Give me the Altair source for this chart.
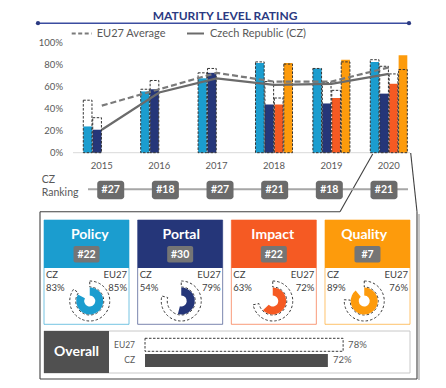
import altair as alt
import pandas as pd
import math

FONT = "Lato"

# ---------------- data ----------------
years = ["2015", "2016", "2017", "2018", "2019", "2020"]
cats = ["Policy", "Portal", "Impact", "Quality"]
cat_colors = ["#1b9dcf", "#253679", "#f55a23", "#fd9b0c"]

cz_policy = [24, 56, 68, 82, 77, 83]
cz_portal = [21, 58, 73, 44, 45, 54]
cz_impact = [None, None, None, 44, 50, 63]
cz_quality = [None, None, None, 82, 85, 89]

eu_policy = [48, 58, 73, 83, 77, 85]
eu_portal = [32, 66, 77, 65, 64, 79]
eu_impact = [None, None, None, 50, 57, 72]
eu_quality = [None, None, None, 81, 83, 76]

eu_avg = [43, 58, 73, 65, 65, 78]
cz_avg = [21, 55, 68, 62, 63, 72]

cz_rank = [27, 18, 27, 21, 18, 21]

y_ticks = [0, 20, 40, 60, 80, 100]
y_tick_labels = ["0%", "20%", "40%", "60%", "80%", "100%"]

panel_rank = [22, 30, 22, 7]
panel_cz = [83, 54, 63, 89]
panel_eu = [85, 79, 72, 76]

overall_labels = ["EU27", "CZ"]
overall_values = [78, 72]

title = "MATURITY LEVEL RATING"
legend_eu = "EU27 Average"
legend_cz = "Czech Republic (CZ)"

# ---------------- tables ----------------
rows = []
for series, vals_cz, vals_eu in zip(cats, [cz_policy, cz_portal, cz_impact, cz_quality],
                                    [eu_policy, eu_portal, eu_impact, eu_quality]):
    for yr, c, e in zip(years, vals_cz, vals_eu):
        if c is not None:
            rows.append({"year": yr, "cat": series, "cz": c, "eu": e})
bars_df = pd.DataFrame(rows)

lines_df = pd.DataFrame({"year": years, "eu": eu_avg, "cz": cz_avg})
rank_df = pd.DataFrame({"year": years, "label": ["#%d" % r for r in cz_rank]})
ticks_df = pd.DataFrame({"v": y_ticks, "label": y_tick_labels})
panel_df = pd.DataFrame({
    "cat": cats, "rank": ["#%d" % r for r in panel_rank],
    "cz": panel_cz, "eu": panel_eu,
    "czl": ["%d%%" % v for v in panel_cz], "eul": ["%d%%" % v for v in panel_eu],
    "zero": [0, 0, 0, 0],
    "czt": ["CZ"] * 4, "eut": ["EU27"] * 4,
})
overall_df = pd.DataFrame({"who": overall_labels, "v": overall_values,
                           "vl": ["%d%%" % v for v in overall_values]})
ONE = pd.DataFrame({"a": [0]})

# ---------------- scales ----------------
year_scale = alt.Scale(domain=years, range=[65.1, 409.5], paddingInner=0.355, paddingOuter=0.1775)
yscale = alt.Scale(domain=[0, 100], range=[144.7, 35.3])
off_scale = alt.Scale(domain=cats, paddingInner=0.08)
color_scale = alt.Scale(domain=cats, range=cat_colors)
rank_scale = alt.Scale(domain=years, range=[75.4, 403.3], paddingInner=0.506, paddingOuter=0.253)
panel_scale = alt.Scale(domain=cats, range=[36, 402], paddingInner=0.0925, paddingOuter=0)
panel_left = alt.Scale(type="point", domain=cats, range=[36, 317], padding=0)
panel_right = alt.Scale(type="point", domain=cats, range=[121, 402], padding=0)
badge_scale = alt.Scale(domain=cats, range=[31.7, 406.3], paddingInner=0.7224, paddingOuter=0.3612)
theta_scale = alt.Scale(domain=[0, 100], range=[0, 2 * math.pi])
ov_x = alt.Scale(domain=[0, 100], range=[137, 391])
ov_y = alt.Scale(domain=overall_labels, range=[330.3, 358.9], paddingInner=0.167, paddingOuter=0)


def txt(text, x, y, size=10, color="#595959", align="left", weight="normal"):
    return alt.Chart(pd.DataFrame({"t": [text]})).mark_text(
        align=align, baseline="middle", fontSize=size, color=color,
        fontWeight=weight, font=FONT
    ).encode(text="t:N", x=alt.value(x), y=alt.value(y))


def rule(x1, y1, x2, y2, color, width=1.0, dash=None, opacity=1.0):
    kw = dict(color=color, strokeWidth=width, opacity=opacity)
    if dash:
        kw["strokeDash"] = dash
    return alt.Chart(ONE).mark_rule(**kw).encode(
        x=alt.value(x1), y=alt.value(y1), x2=alt.value(x2), y2=alt.value(y2))


def rect(x1, y1, x2, y2, **kw):
    return alt.Chart(ONE).mark_rect(**kw).encode(
        x=alt.value(x1), y=alt.value(y1), x2=alt.value(x2), y2=alt.value(y2))


layers = []

# title + underline
layers.append(txt(title, 217, 7.5, size=12, color="#2b3a82", align="center", weight="bold"))
layers.append(rule(30, 15.2, 401, 15.2, "#3b4da0", 1.5))
layers.append(alt.Chart(pd.DataFrame({"p": [0, 1]})).mark_point(
    filled=True, size=18, color="#2b3a82", opacity=1).encode(
    x=alt.X("p:Q", scale=alt.Scale(domain=[0, 1], range=[30, 401]), axis=None),
    y=alt.value(15.2)))

# legend
layers.append(rule(63.7, 25.5, 83.7, 25.5, "#7a7a7a", 2, dash=[4, 2.5]))
layers.append(txt(legend_eu, 88.7, 25.5, size=11, color="#595959"))
layers.append(rule(179, 25.5, 196, 25.5, "#6b6b6b", 2))
layers.append(txt(legend_cz, 202, 25.5, size=11, color="#595959"))

# y tick labels
layers.append(alt.Chart(ticks_df).mark_text(align="right", baseline="middle", fontSize=9.5,
                                            color="#595959", font=FONT).encode(
    y=alt.Y("v:Q", scale=yscale, axis=None), x=alt.value(55), text="label:N"))

# baseline
layers.append(rule(65, 144.7, 402, 144.7, "#d9d9d9", 1))

# callout box shadow and outline
layers.append(rule(34, 373, 411, 373, "#b0b0b0", 2, opacity=0.7))
layers.append(rule(411, 206, 411, 373, "#b0b0b0", 2, opacity=0.7))
box_col = "#404040"
layers.append(rule(364.7, 146, 332, 203.7, box_col, 1.1))
layers.append(rule(32, 203.7, 332, 203.7, box_col, 1.1))
layers.append(rule(402.7, 145, 409, 203.7, box_col, 1.1))
layers.append(rule(409, 203.7, 409, 371, box_col, 1.1))
layers.append(rule(32, 371, 409, 371, box_col, 1.1))
layers.append(rule(32, 203.7, 32, 371, box_col, 1.1))

# CZ bars
layers.append(alt.Chart(bars_df).mark_bar().encode(
    x=alt.X("year:N", scale=year_scale, axis=None),
    xOffset=alt.XOffset("cat:N", scale=off_scale),
    y=alt.Y("cz:Q", scale=yscale, axis=None),
    color=alt.Color("cat:N", scale=color_scale, legend=None)))
# EU27 dashed bars
layers.append(alt.Chart(bars_df).mark_bar(fillOpacity=0, stroke="#333333", strokeWidth=1,
                                          strokeDash=[2.5, 1.5]).encode(
    x=alt.X("year:N", scale=year_scale, axis=None),
    xOffset=alt.XOffset("cat:N", scale=off_scale),
    y=alt.Y("eu:Q", scale=yscale, axis=None)))

# average lines
layers.append(alt.Chart(lines_df).mark_line(color="#7a7a7a", strokeWidth=2.2, strokeDash=[6, 3]).encode(
    x=alt.X("year:N", scale=year_scale, axis=None, bandPosition=0.5),
    y=alt.Y("eu:Q", scale=yscale, axis=None)))
layers.append(alt.Chart(lines_df).mark_line(color="#6b6b6b", strokeWidth=2.2).encode(
    x=alt.X("year:N", scale=year_scale, axis=None, bandPosition=0.5),
    y=alt.Y("cz:Q", scale=yscale, axis=None)))

# year labels
layers.append(alt.Chart(lines_df).mark_text(fontSize=9.5, color="#595959", font=FONT,
                                            baseline="middle").encode(
    x=alt.X("year:N", scale=year_scale, axis=None, bandPosition=0.5),
    y=alt.value(157.7), text="year:N"))

# ranking row
layers.append(txt("CZ", 33.7, 172, size=10.5))
layers.append(txt("Ranking", 33.7, 185, size=10.5))
layers.append(rule(80, 181.3, 400, 181.3, "#a6a6a6", 2))
layers.append(alt.Chart(rank_df).mark_rect(cornerRadius=3, color="#6b6b6b").encode(
    x=alt.X("year:N", scale=rank_scale, axis=None),
    y=alt.value(172.7), y2=alt.value(191.3)))
layers.append(alt.Chart(rank_df).mark_text(fontSize=10.5, fontWeight="bold", color="white",
                                           font=FONT, baseline="middle").encode(
    x=alt.X("year:N", scale=rank_scale, axis=None, bandPosition=0.5),
    y=alt.value(182), text="label:N"))

# category panels
layers.append(alt.Chart(panel_df).mark_rect(fill="white", strokeWidth=1, strokeOpacity=0.6).encode(
    x=alt.X("cat:N", scale=panel_scale, axis=None),
    y=alt.value(212), y2=alt.value(316.3),
    stroke=alt.Stroke("cat:N", scale=color_scale, legend=None)))
layers.append(alt.Chart(panel_df).mark_rect().encode(
    x=alt.X("cat:N", scale=panel_scale, axis=None),
    y=alt.value(212), y2=alt.value(260),
    color=alt.Color("cat:N", scale=color_scale, legend=None)))
layers.append(alt.Chart(panel_df).mark_text(fontSize=14, fontWeight="bold", color="white",
                                            font=FONT, baseline="middle").encode(
    x=alt.X("cat:N", scale=panel_scale, axis=None, bandPosition=0.5),
    y=alt.value(227), text="cat:N"))
layers.append(alt.Chart(panel_df).mark_rect(cornerRadius=2, color="#757575").encode(
    x=alt.X("cat:N", scale=badge_scale, axis=None),
    y=alt.value(238), y2=alt.value(254.5)))
layers.append(alt.Chart(panel_df).mark_text(fontSize=10.5, fontWeight="bold", color="white",
                                            font=FONT, baseline="middle").encode(
    x=alt.X("cat:N", scale=badge_scale, axis=None, bandPosition=0.5),
    y=alt.value(246.5), text="rank:N"))
for field, yv in [("czt", 267), ("czl", 279.7)]:
    layers.append(alt.Chart(panel_df).mark_text(fontSize=9.5, color="#404040", font=FONT,
                                                align="left", baseline="middle", dx=2).encode(
        x=alt.X("cat:N", scale=panel_left, axis=None),
        y=alt.value(yv), text=field + ":N"))
for field, yv in [("eut", 267), ("eul", 279.7)]:
    layers.append(alt.Chart(panel_df).mark_text(fontSize=9.5, color="#404040", font=FONT,
                                                align="right", baseline="middle", dx=-2).encode(
        x=alt.X("cat:N", scale=panel_right, axis=None),
        y=alt.value(yv), text=field + ":N"))
# donuts
layers.append(alt.Chart(panel_df).mark_arc(radius=20, radius2=14, fillOpacity=0, stroke="#3a3a3a",
                                           strokeWidth=1, strokeDash=[2.5, 2]).encode(
    x=alt.X("cat:N", scale=panel_scale, axis=None, bandPosition=0.5),
    y=alt.value(293),
    theta=alt.Theta("zero:Q", scale=theta_scale), theta2="eu:Q"))
layers.append(alt.Chart(panel_df).mark_arc(radius=13.5, radius2=5.5).encode(
    x=alt.X("cat:N", scale=panel_scale, axis=None, bandPosition=0.5),
    y=alt.value(293),
    theta=alt.Theta("zero:Q", scale=theta_scale), theta2="cz:Q",
    color=alt.Color("cat:N", scale=color_scale, legend=None)))

# overall panel
layers.append(rect(36, 323, 402, 365, fill="white", stroke="#c8c8c8", strokeWidth=1))
layers.append(rect(36, 323, 101, 365, fill="#505050"))
layers.append(txt("Overall", 68.5, 344, size=14, color="white", align="center", weight="bold"))
layers.append(alt.Chart(overall_df).mark_text(fontSize=8.5, color="#595959", font=FONT,
                                              align="right", baseline="middle").encode(
    y=alt.Y("who:N", scale=ov_y, axis=None, bandPosition=0.5),
    x=alt.value(127), text="who:N"))
layers.append(alt.Chart(overall_df[overall_df.who == "EU27"]).mark_bar(
    fillOpacity=0, stroke="#3a3a3a", strokeWidth=1, strokeDash=[2.5, 1.5]).encode(
    x=alt.X("v:Q", scale=ov_x, axis=None),
    y=alt.Y("who:N", scale=ov_y, axis=None)))
layers.append(alt.Chart(overall_df[overall_df.who == "CZ"]).mark_bar(color="#4d4d4d").encode(
    x=alt.X("v:Q", scale=ov_x, axis=None),
    y=alt.Y("who:N", scale=ov_y, axis=None)))
layers.append(alt.Chart(overall_df).mark_text(fontSize=9.5, color="#595959", font=FONT,
                                              align="left", baseline="middle", dx=5).encode(
    x=alt.X("v:Q", scale=ov_x, axis=None),
    y=alt.Y("who:N", scale=ov_y, axis=None, bandPosition=0.5),
    text="vl:N"))

chart = alt.layer(*layers).resolve_scale(
    x="independent", y="independent", color="independent",
    stroke="independent", theta="independent"
).properties(
    width=430, height=372, padding=0, autosize="none", background="white"
).configure_view(stroke=None)

chart.save("out.html", embed_options={"renderer": "svg", "actions": False})
